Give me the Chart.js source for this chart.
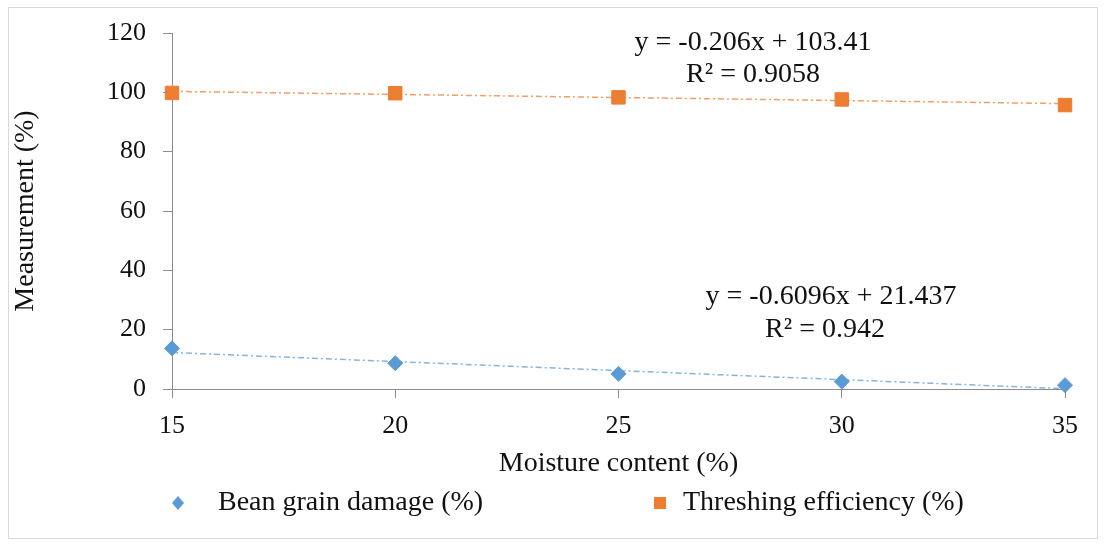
<!DOCTYPE html>
<html>
<head>
<meta charset="utf-8">
<script src="https://cdn.jsdelivr.net/npm/chart.js@4"></script>
<style>
    html, body { margin: 0; padding: 0; background: #fff; }
    #wrap {
        position: absolute;
        left: 8px; top: 7px;
        width: 1088px; height: 530px;
        border: 1px solid #d9d9d9;
    }
</style>
</head>
<body>
<div id="wrap"><canvas id="moistureChart"></canvas></div>
<script>
// Moisture content vs. damage / efficiency

const moisture = [15, 20, 25, 30, 35];
const grainDamage = [13.7, 8.7, 5.1, 2.5, 1.3];
const threshingEff = [99.8, 99.7, 98.3, 97.6, 95.7];

// linear fits: [slope, intercept, r2]
const damageFit = [-0.6096, 21.437, 0.942];
const effFit = [-0.206, 103.41, 0.9058];

const yTicks = [0, 20, 40, 60, 80, 100, 120];

const BLUE = '#5B9BD5';
const ORANGE = '#ED7D31';
const FONT = 'Liberation Serif, Times New Roman, serif';
const TEXT_SIZE = 28;
const TICK_SIZE = 26;

function fitLine(fit) {
    const x0 = moisture[0], x1 = moisture[moisture.length - 1];
    return [{ x: x0, y: fit[0] * x0 + fit[1] }, { x: x1, y: fit[0] * x1 + fit[1] }];
}

function fitLabel(fit) {
    const sign = fit[1] < 0 ? '-' : '+';
    return ['y = ' + fit[0] + 'x ' + sign + ' ' + Math.abs(fit[1]), 'R² = ' + fit[2]];
}

// equation text next to each trend line + the legend row at the bottom
const overlayPlugin = {
    id: 'overlay',
    afterDraw(chart) {
        const { ctx, chartArea } = chart;
        ctx.save();
        ctx.font = TEXT_SIZE + 'px ' + FONT;
        ctx.fillStyle = '#111';
        ctx.textAlign = 'center';
        ctx.textBaseline = 'middle';
        const eff = fitLabel(effFit);
        ctx.fillText(eff[0], chartArea.left + 581, chartArea.top + 10);
        ctx.fillText(eff[1], chartArea.left + 581, chartArea.top + 42);
        const dmg = fitLabel(damageFit);
        ctx.fillText(dmg[0], chartArea.left + 659, chartArea.top + 264);
        ctx.fillText(dmg[1], chartArea.left + 653, chartArea.top + 297);

        // legend
        const ly = chartArea.bottom + 114;
        ctx.textAlign = 'left';
        ctx.fillStyle = BLUE;
        ctx.beginPath();
        ctx.moveTo(169, ly - 7);
        ctx.lineTo(175, ly);
        ctx.lineTo(169, ly + 7);
        ctx.lineTo(163, ly);
        ctx.closePath();
        ctx.fill();
        ctx.fillStyle = ORANGE;
        ctx.fillRect(645, ly - 6, 12, 12);
        ctx.fillStyle = '#111';
        ctx.fillText(chart.data.datasets[0].label, 209, ly);
        ctx.fillText(chart.data.datasets[1].label, 674, ly);
        ctx.restore();
    }
};

const trendStyle = {
    type: 'line',
    borderWidth: 1.5,
    borderDash: [6, 3, 2, 3],
    pointRadius: 0,
    fill: false,
    clip: false
};

new Chart(document.getElementById('moistureChart'), {
    type: 'scatter',
    data: {
        datasets: [
            {
                label: 'Bean grain damage (%)',
                data: moisture.map((x, i) => ({ x, y: grainDamage[i] })),
                pointStyle: 'rectRot',
                pointRadius: 7.5,
                backgroundColor: BLUE,
                borderColor: BLUE,
                clip: false
            },
            {
                label: 'Threshing efficiency (%)',
                data: moisture.map((x, i) => ({ x, y: threshingEff[i] })),
                pointStyle: 'rect',
                pointRadius: 9.5,
                backgroundColor: ORANGE,
                borderColor: ORANGE,
                clip: false
            },
            Object.assign({ label: 'fit-damage', data: fitLine(damageFit), borderColor: 'rgba(91,155,213,0.75)' }, trendStyle),
            Object.assign({ label: 'fit-eff', data: fitLine(effFit), borderColor: 'rgba(237,125,49,0.75)' }, trendStyle)
        ]
    },
    options: {
        responsive: true,
        maintainAspectRatio: false,
        animation: false,
        layout: { padding: { left: 0, top: 25, right: 32, bottom: 0 } },
        plugins: {
            tooltip: { enabled: false },
            legend: { display: false }
        },
        scales: {
            x: {
                type: 'linear',
                min: 15,
                max: 35,
                afterBuildTicks: axis => { axis.ticks = moisture.map(v => ({ value: v })); },
                grid: { drawOnChartArea: false, drawTicks: true, tickLength: 9, color: '#8c8c8c' },
                border: { color: '#8c8c8c', width: 1 },
                ticks: { color: '#111', padding: 13, font: { family: FONT, size: TICK_SIZE } },
                title: {
                    display: true,
                    text: 'Moisture content (%)',
                    color: '#111',
                    font: { family: FONT, size: TEXT_SIZE },
                    padding: { top: 0, bottom: 58 }
                },
                afterFit: axis => { axis.height = 149; }
            },
            y: {
                min: 0,
                max: 120,
                afterBuildTicks: axis => { axis.ticks = yTicks.map(v => ({ value: v })); },
                grid: { drawOnChartArea: false, drawTicks: true, tickLength: 9, color: '#8c8c8c' },
                border: { color: '#8c8c8c', width: 1 },
                ticks: { color: '#111', padding: 17, font: { family: FONT, size: TICK_SIZE } },
                title: {
                    display: true,
                    text: 'Measurement (%)',
                    color: '#111',
                    font: { family: FONT, size: TEXT_SIZE },
                    padding: { top: 0, bottom: 0 }
                },
                afterFit: axis => {
                    axis.width = 163;
                    axis.paddingTop = 0;
                    axis.paddingBottom = 0;
                }
            }
        }
    },
    plugins: [overlayPlugin]
});
</script>
</body>
</html>
